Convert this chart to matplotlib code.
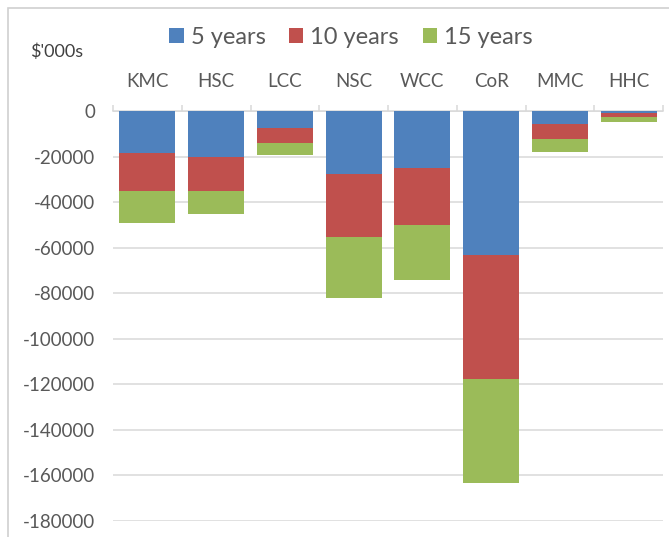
import matplotlib
matplotlib.use("Agg")
import matplotlib.pyplot as plt
import numpy as np
from matplotlib.patches import Patch, Rectangle

plt.rcParams['font.family'] = ['Lato', 'DejaVu Sans']

councils = ["KMC", "HSC", "LCC", "NSC", "WCC", "CoR", "MMC", "HHC"]
series_names = ["5 years", "10 years", "15 years"]
five_years = [-18500, -20000, -7600, -27600, -25000, -63200, -5800, -1000]
ten_years = [-16500, -15100, -6600, -27500, -24900, -54500, -6600, -1600]
fifteen_years = [-14300, -10200, -5000, -27100, -24500, -45600, -5700, -2100]
y_ticks = [0, -20000, -40000, -60000, -80000, -100000, -120000, -140000, -160000, -180000]

colors = ["#4F81BD", "#C0504D", "#9BBB59"]

W, H = 669, 537
fig = plt.figure(figsize=(W / 100, H / 100), dpi=100)
fig.patch.set_facecolor("white")

# light frame around the chart
fig.patches.append(Rectangle((8 / W, -0.05), 1.2, 1 - 8 / H + 0.05,
                             transform=fig.transFigure, fill=False,
                             edgecolor="#d0d0d0", linewidth=1.2, zorder=0))

ax = fig.add_axes([113 / W, 1 - 521 / H, (663 - 113) / W, (521 - 111) / H])

x = np.arange(len(councils))
width = 0.815
bottom = np.zeros(len(councils))
for vals, name, c in zip([five_years, ten_years, fifteen_years], series_names, colors):
    v = np.array(vals, dtype=float)
    ax.bar(x, v, width, bottom=bottom, color=c, label=name, zorder=3)
    bottom += v

ax.set_xlim(-0.5, len(councils) - 0.5)
ax.set_ylim(-180000, 0)
ax.set_yticks(y_ticks)
ax.set_yticklabels([str(t) for t in y_ticks])
ax.yaxis.grid(True, color="#d9d9d9", linewidth=1.1, zorder=0)
ax.set_axisbelow(True)

for s in ["left", "right", "bottom"]:
    ax.spines[s].set_visible(False)
ax.spines["top"].set_color("#d9d9d9")
ax.spines["top"].set_linewidth(1.1)

ax.tick_params(axis="y", length=0, pad=13, labelsize=13.5, labelcolor="#595959")

# category labels above the plot, tick marks at category boundaries
ax.xaxis.tick_top()
ax.set_xticks(x)
ax.set_xticklabels(councils)
ax.tick_params(axis="x", which="major", length=0, pad=15, labelsize=13.5,
               labelcolor="#595959")
ax.set_xticks(np.arange(-0.5, len(councils) + 0.5, 1), minor=True)
ax.tick_params(axis="x", which="minor", length=4, width=1.1, color="#d9d9d9",
               direction="out", top=True, bottom=False)

fig.text(30 / W, 1 - 52 / H, "$'000s", fontsize=13, color="#404040",
         ha="left", va="center")

handles = [Patch(facecolor=c) for c in colors]
fig.legend(handles, series_names, loc="center", ncol=3,
           bbox_to_anchor=(351 / W, 1 - 37 / H), frameon=False,
           fontsize=17, labelcolor="#595959", handlelength=0.6,
           handleheight=0.6, handletextpad=0.3, columnspacing=1.0)

fig.savefig("out.png", dpi=100, facecolor="white")
